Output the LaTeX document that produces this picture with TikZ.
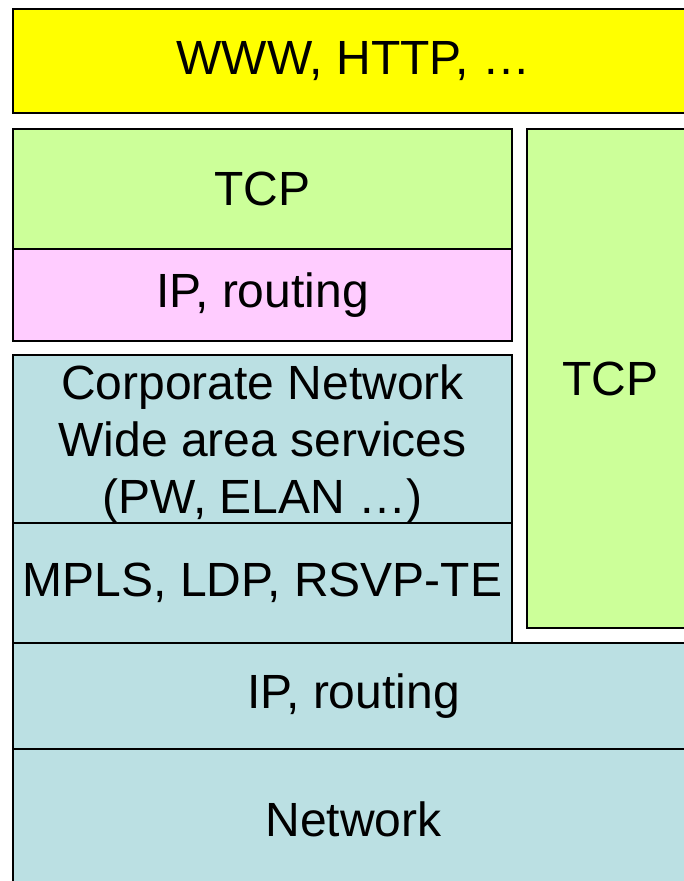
\documentclass[tikz,border=0pt]{standalone}
\usepackage{fontspec}
\setmainfont{Liberation Sans}
\definecolor{appyellow}{HTML}{FFFF00}
\definecolor{tcpgreen}{HTML}{CCFF99}
\definecolor{ippink}{HTML}{FFCCFF}
\definecolor{netblue}{HTML}{BBE0E3}

\begin{document}
\begin{tikzpicture}[x=1pt, y=-1pt,
    layer/.style={draw, line width=2pt, rectangle, anchor=north west, inner sep=0pt,
                  align=center, font=\fontsize{48}{57}\selectfont}]
      \useasboundingbox (0,0) rectangle (684,881);
      \clip (0,0) rectangle (684,881);
      \node[layer, fill=appyellow, minimum width=681pt, minimum height=104pt] (www) at (12,8) {WWW, HTTP, \dots};
      \node[layer, fill=tcpgreen, minimum width=499pt, minimum height=120pt] (tcp) at (12,128) {TCP};
      \node[layer, fill=ippink, minimum width=499pt, minimum height=92pt] (ip) at (12,248) {IP, routing};
      \node[layer, fill=tcpgreen, minimum width=167pt, minimum height=499pt] (tcpr) at (526,128) {TCP};
      \node[layer, fill=netblue, minimum width=499pt, minimum height=168pt] (corp) at (12,354)
            {\rule{0pt}{44pt}Corporate Network\\Wide area services\ \\(PW, ELAN \dots)};
      \node[layer, fill=netblue, minimum width=499pt, minimum height=120pt] (mpls) at (12,522) {MPLS, LDP, RSVP-TE};
      \node[layer, fill=netblue, minimum width=681pt, minimum height=106pt] (ipnet) at (12,642) {IP, routing};
      \node[layer, fill=netblue, minimum width=681pt, minimum height=140pt] (net) at (12,748) {Network};
    \end{tikzpicture}
\end{document}
